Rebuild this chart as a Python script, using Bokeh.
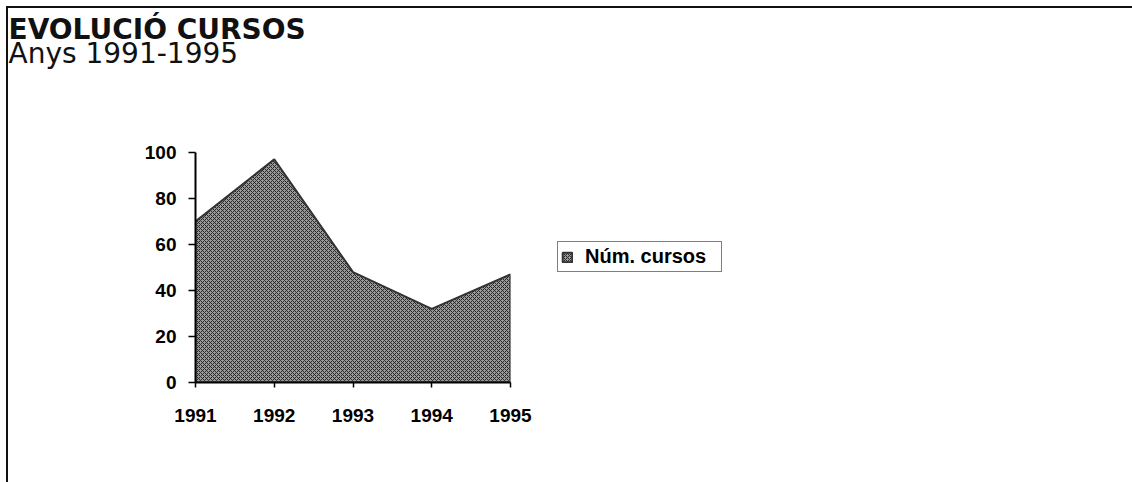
from bokeh.plotting import figure
from bokeh.models import Title, Legend, LegendItem, FixedTicker, Range1d
from bokeh.embed import file_html
from bokeh.resources import INLINE

years = [1991, 1992, 1993, 1994, 1995]
cursos = [70, 97, 48, 32, 47]
y_ticks = [0, 20, 40, 60, 80, 100]
title_text = "EVOLUCIÓ CURSOS"
subtitle_text = "Anys 1991-1995"
series_name = "Núm. cursos"

FL, FT, FB, FR = 187, 144, 100, 622
p = figure(frame_width=315, frame_height=230, output_backend="svg", toolbar_location=None,
           x_range=Range1d(1991, 1995), y_range=Range1d(0, 100),
           min_border_left=FL, min_border_right=FR, min_border_top=FT,
           min_border_bottom=FB)
p.styles = {"border-top": "2px solid #111", "border-left": "2px solid #111",
            "margin-top": "6px", "margin-left": "6px"}
p.outline_line_color = None
p.xgrid.visible = False
p.ygrid.visible = False
p.background_fill_color = "white"
p.border_fill_color = "white"

xs = years + years[::-1]
ys = cursos + [0] * len(years)
area = p.patch(xs, ys, fill_color="#9a9a9a", hatch_pattern="diagonal_cross",
               hatch_color="#262626", hatch_scale=4, hatch_weight=1,
               line_color="#333333", line_width=2)

for ax in (p.xaxis[0], p.yaxis[0]):
    ax.axis_line_color = "black"
    ax.axis_line_width = 2
    ax.major_tick_line_color = "black"
    ax.major_tick_line_width = 1.5
    ax.major_tick_in = 0
    ax.minor_tick_line_color = None
    ax.major_label_text_font = "Liberation Sans"
    ax.major_label_text_font_style = "bold"
    ax.major_label_text_font_size = "19px"
    ax.major_label_text_color = "black"

p.xaxis.ticker = FixedTicker(ticks=years)
p.xaxis.major_tick_out = 5
p.xaxis.major_label_standoff = 21
p.yaxis.ticker = FixedTicker(ticks=y_ticks)
p.yaxis.major_tick_out = 7
p.yaxis.major_label_standoff = 12

spacer = Title(text=" ", align="left", offset=-FL, standoff=48,
               text_font="DejaVu Sans", text_font_size="28px")
sub = Title(text=subtitle_text, align="left", offset=-FL, standoff=0,
            text_font="DejaVu Sans", text_font_style="normal",
            text_font_size="28px", text_color="#111")
ttl = Title(text=title_text, align="left", offset=-FL, standoff=-22,
            text_font="DejaVu Sans", text_font_style="bold",
            text_font_size="28px", text_color="#111")
p.add_layout(spacer, "above")
p.add_layout(sub, "above")
p.add_layout(ttl, "above")

legend = Legend(items=[LegendItem(label=series_name, renderers=[area])],
                location=(47, 110), orientation="vertical",
                border_line_color="black", border_line_width=1.5,
                background_fill_color="white", background_fill_alpha=1,
                label_text_font="Liberation Sans", label_text_font_style="bold",
                label_text_font_size="20px", label_text_color="black",
                label_text_line_height=0.9,
                glyph_width=12, glyph_height=12, label_standoff=12,
                label_width=133, padding=3, margin=0, spacing=0, label_height=16)
p.add_layout(legend, "right")

open("out.html", "w").write(file_html(p, INLINE))
